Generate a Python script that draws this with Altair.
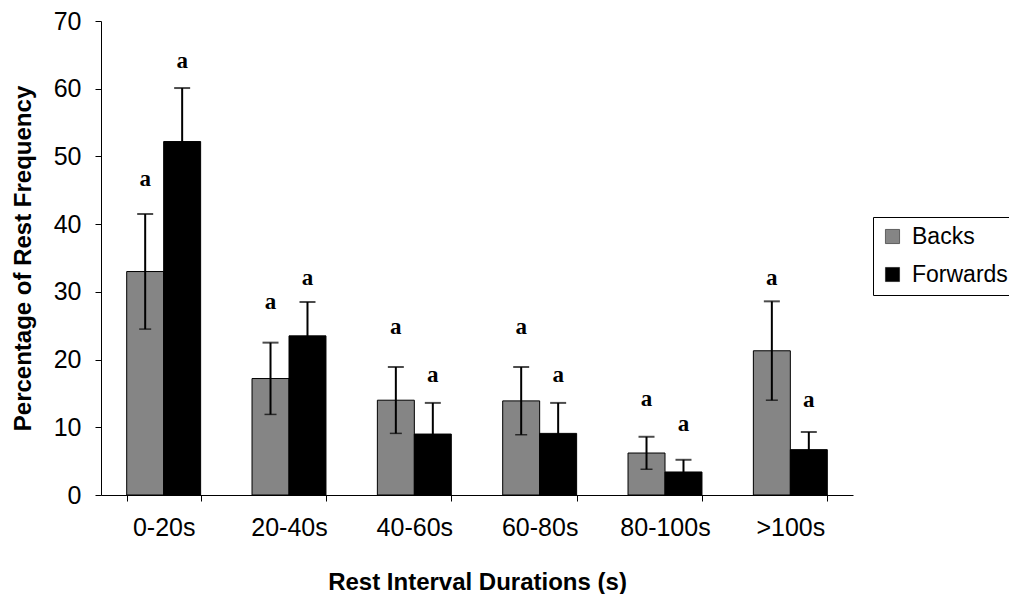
import altair as alt
import pandas as pd

categories = ["0-20s", "20-40s", "40-60s", "60-80s", "80-100s", ">100s"]
groups = ["Backs", "Forwards"]

backs = [33.0, 17.2, 14.0, 13.9, 6.2, 21.3]
backs_se = [8.5, 5.3, 4.9, 5.0, 2.4, 7.3]
forwards = [52.2, 23.5, 9.0, 9.1, 3.4, 6.7]
forwards_se = [7.9, 5.0, 4.6, 4.5, 1.8, 2.6]

backs_letters = ["a", "a", "a", "a", "a", "a"]
forwards_letters = ["a", "a", "a", "a", "a", "a"]
backs_letter_y = [46.7, 28.5, 24.8, 24.8, 14.2, 32.1]
forwards_letter_y = [64.1, 32.1, 17.7, 17.7, 10.5, 14.0]

rows = []
for i, c in enumerate(categories):
    rows.append(dict(cat=c, group="Backs", v=backs[i], lo=backs[i] - backs_se[i],
                     hi=backs[i] + backs_se[i], letter=backs_letters[i], ly=backs_letter_y[i]))
    rows.append(dict(cat=c, group="Forwards", v=forwards[i], lo=forwards[i] - forwards_se[i],
                     hi=forwards[i] + forwards_se[i], letter=forwards_letters[i], ly=forwards_letter_y[i]))
df = pd.DataFrame(rows)

FONT = "Liberation Sans"

x_enc = alt.X(
    "cat:N", sort=categories,
    scale=alt.Scale(paddingInner=0.41, paddingOuter=0.205),
    axis=alt.Axis(
        title="Rest Interval Durations (s)", labelAngle=0, tickBand="extent",
        tickSize=6, labelPadding=14, titlePadding=30,
        labelFont=FONT, labelFontSize=25, labelColor="black",
        titleFont=FONT, titleFontSize=24, titleFontWeight="bold", titleColor="black",
        domainColor="black", tickColor="black", grid=False,
    ),
)
xo_enc = alt.XOffset("group:N", sort=groups, scale=alt.Scale(paddingInner=0, paddingOuter=0))
y_scale = alt.Scale(domain=[0, 70], nice=False)
y_axis = alt.Axis(
    title="Percentage of Rest Frequency", values=[0, 10, 20, 30, 40, 50, 60, 70],
    tickSize=6, labelPadding=14, titlePadding=18, grid=False,
    labelFont=FONT, labelFontSize=25, labelColor="black",
    titleFont=FONT, titleFontSize=24, titleFontWeight="bold", titleColor="black",
    domainColor="black", tickColor="black",
)

base = alt.Chart(df).encode(x=x_enc, xOffset=xo_enc)

bars = base.mark_bar(stroke="black", strokeWidth=1).encode(
    y=alt.Y("v:Q", scale=y_scale, axis=y_axis),
    color=alt.Color(
        "group:N", sort=groups,
        scale=alt.Scale(domain=groups, range=["#858585", "#000000"]),
        legend=alt.Legend(
            title=None, orient="none", legendX=772, legendY=196,
            strokeColor="black", padding=8, symbolType="square", symbolSize=200,
            symbolStrokeColor="black", symbolStrokeWidth=0.5,
            labelFont=FONT, labelFontSize=23, labelColor="black",
            rowPadding=14, labelOffset=8, fillColor="white",
        ),
    ),
)

rules = base.mark_rule(color="black", strokeWidth=2).encode(y="lo:Q", y2="hi:Q")
cap_hi = base.mark_tick(color="black", size=16, thickness=2).encode(y="hi:Q")
cap_lo = base.mark_tick(color="black", size=12, thickness=1.5).encode(y="lo:Q")
letters = base.mark_text(
    font="Liberation Serif", fontWeight="bold", fontSize=23, baseline="middle", color="black"
).encode(y="ly:Q", text="letter:N")

chart = alt.layer(bars, rules, cap_hi, cap_lo, letters).properties(
    width=752, height=474,
    autosize=alt.AutoSizeParams(type="none"),
    padding={"left": 93, "top": 13, "right": 156, "bottom": 99},
).configure_view(strokeWidth=0)

chart.save("out.html", embed_options={"renderer": "svg", "actions": False})
